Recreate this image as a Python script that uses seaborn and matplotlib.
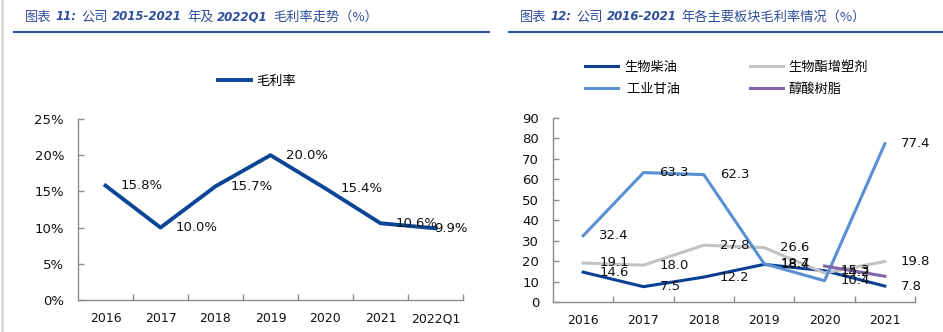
import numpy as np
import pandas as pd
import matplotlib
matplotlib.use('Agg')
import matplotlib.pyplot as plt
import seaborn as sns
from matplotlib.lines import Line2D
from matplotlib.ticker import FixedLocator, FuncFormatter, MultipleLocator
from matplotlib.font_manager import FontProperties

# ---------------- data ----------------
years_left = ['2016', '2017', '2018', '2019', '2020', '2021', '2022Q1']
gross_margin = [15.8, 10.0, 15.7, 20.0, 15.4, 10.6, 9.9]
left_series = '毛利率'

years_right = ['2016', '2017', '2018', '2019', '2020', '2021']
biodiesel = [14.6, 7.5, 12.2, 18.4, 15.3, 7.8]
plasticizer = [19.1, 18.0, 27.8, 26.6, 14.2, 19.8]
glycerin = [32.4, 63.3, 62.3, 18.7, 10.4, 77.4]
alkyd = [None, None, None, None, 17.6, 12.6]
series_names = ['生物柴油', '生物酯增塑剂', '工业甘油', '醇酸树脂']
series_colors = ['#0B3F94', '#C3C3C3', '#5A8FD2', '#8064A8']
label_series = [True, True, True, False]

title_left = [('图表', 'c'), ('11:', 'l'), ('公司', 'c'), ('2015-2021', 'l'),
              ('年及', 'c'), ('2022Q1', 'l'), ('毛利率走势（%）', 'c')]
title_right = [('图表', 'c'), ('12:', 'l'), ('公司', 'c'), ('2016-2021', 'l'),
               ('年各主要板块毛利率情况（%）', 'c')]

# ---------------- style ----------------
W, H = 943, 332
CJK = ['Noto Sans CJK SC', 'DejaVu Sans']
plt.rcParams['font.family'] = ['DejaVu Sans', 'Noto Sans CJK SC']
AXC = '#8C8C8C'
TXT = '#111111'
TITLE_C = '#2E4E9A'
RULE_C = '#2F5597'

fig = plt.figure(figsize=(W / 100, H / 100), dpi=100)
fig.patch.set_facecolor('white')


def px_axes(x0, y0, x1, y1):
    return fig.add_axes([x0 / W, 1 - y1 / H, (x1 - x0) / W, (y1 - y0) / H])


def style_axes(ax, n):
    for s in ['top', 'right']:
        ax.spines[s].set_visible(False)
    for s in ['left', 'bottom']:
        ax.spines[s].set_color(AXC)
        ax.spines[s].set_linewidth(1.0)
    ax.set_xlim(-0.5, n - 0.5)
    ax.xaxis.set_minor_locator(FixedLocator([i + 0.5 for i in range(n)]))
    ax.tick_params(axis='x', which='major', length=0, pad=9, labelsize=9, labelcolor=TXT)
    ax.tick_params(axis='x', which='minor', direction='in', length=4, color=AXC, width=1)
    ax.tick_params(axis='y', which='major', direction='in', length=4, color=AXC, width=1,
                   pad=10, labelsize=9.5, labelcolor=TXT)
    ax.set_xlabel('')
    ax.set_ylabel('')


# ---------------- left chart ----------------
ax1 = px_axes(78, 119, 463, 300)
df_left = pd.DataFrame({'年份': years_left, '值': gross_margin, '系列': left_series})
sns.lineplot(data=df_left, x='年份', y='值', hue='系列', palette=['#0B4596'],
             linewidth=2.8, sort=False, ax=ax1)
style_axes(ax1, len(years_left))
ax1.set_ylim(0, 25)
ax1.yaxis.set_major_locator(MultipleLocator(5))
ax1.yaxis.set_major_formatter(FuncFormatter(lambda v, p: f'{v:.0f}%'))
for i, (yr, v) in enumerate(zip(years_left, gross_margin)):
    dx = 11 if i < len(years_left) - 1 else -1
    ax1.annotate(f'{v:.1f}%', xy=(yr, v), xytext=(dx, 0), textcoords='offset points',
                 ha='left', va='center', fontsize=9.5, color=TXT, zorder=5)
h, l = ax1.get_legend_handles_labels()
ax1.legend(h, l, loc='center left', bbox_to_anchor=(218 / W, 1 - 81 / H),
           bbox_transform=fig.transFigure, frameon=False, handlelength=2.5,
           handletextpad=0.4, borderpad=0, borderaxespad=0,
           prop=FontProperties(family=CJK, size=9.5))

# ---------------- right chart ----------------
ax2 = px_axes(553, 118, 915, 302)
rows = []
for name, vals in zip(series_names, [biodiesel, plasticizer, glycerin, alkyd]):
    for yr, v in zip(years_right, vals):
        if v is not None:
            rows.append({'年份': yr, '值': v, '板块': name})
df_right = pd.DataFrame(rows)
sns.lineplot(data=df_right, x='年份', y='值', hue='板块', hue_order=series_names,
             palette=dict(zip(series_names, series_colors)), linewidth=2.2,
             sort=False, ax=ax2)
style_axes(ax2, len(years_right))
ax2.set_ylim(0, 90)
ax2.yaxis.set_major_locator(MultipleLocator(10))
for name, vals, lab in zip(series_names, [biodiesel, plasticizer, glycerin, alkyd], label_series):
    if not lab:
        continue
    for yr, v in zip(years_right, vals):
        if v is None:
            continue
        ax2.annotate(f'{v:.1f}', xy=(yr, v), xytext=(11.5, 0), textcoords='offset points',
                     ha='left', va='center', fontsize=9.5, color=TXT, zorder=5)
h, l = ax2.get_legend_handles_labels()
hl = dict(zip(l, h))
order = ['生物柴油', '工业甘油', '生物酯增塑剂', '醇酸树脂']
disp = {'工业甘油': ' 工业甘油'}
ax2.legend([hl[k] for k in order], [disp.get(k, k) for k in order], ncol=2,
           loc='upper left', bbox_to_anchor=(585 / W, 1 - 61 / H),
           bbox_transform=fig.transFigure, frameon=False, handlelength=2.5,
           handletextpad=0.45, borderpad=0, borderaxespad=0, columnspacing=5.3,
           labelspacing=0.65, prop=FontProperties(family=CJK, size=9.5))

# ---------------- titles & rules ----------------
renderer = fig.canvas.get_renderer()


def draw_title(x_px, y_px, runs):
    x = x_px
    for s, kind in runs:
        if kind == 'c':
            kw = dict(family=CJK, fontsize=9.5)
        else:
            kw = dict(family='DejaVu Sans', style='italic', weight='bold', fontsize=8.5)
        t = fig.text(x / W, 1 - y_px / H, s, ha='left', va='center', color=TITLE_C, **kw)
        bb = t.get_window_extent(renderer)
        x += bb.width + (4 if kind == 'c' else 5)


draw_title(25, 17, title_left)
draw_title(520, 17, title_right)

fig.add_artist(Line2D([14 / W, 489 / W], [1 - 31.5 / H, 1 - 31.5 / H], color=RULE_C, lw=1.5))
fig.add_artist(Line2D([509 / W, 943 / W], [1 - 31.5 / H, 1 - 31.5 / H], color=RULE_C, lw=1.5))
fig.add_artist(Line2D([1.5 / W, 1.5 / W], [0, 1], color='#D9D9D9', lw=2))

fig.savefig('out.png', dpi=100, facecolor='white')
